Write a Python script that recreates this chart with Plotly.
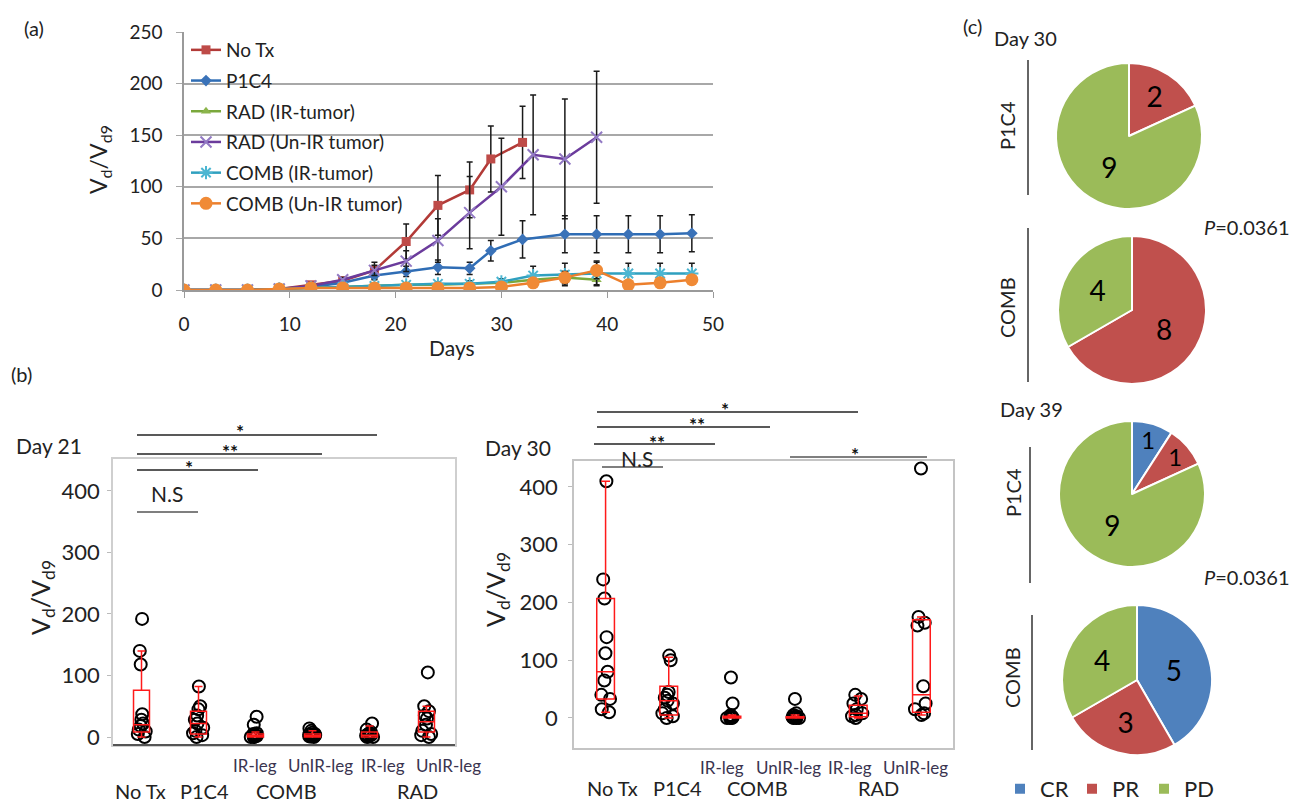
import plotly.graph_objects as go

W, H = 1309, 805
def fx(px): return px / W
def fy(py): return 1 - py / H

FONT = "Lato"

# ---------------- Panel (a) data ----------------
days_notx = [0, 3, 6, 9, 12, 15, 18, 21, 24, 27, 29, 32]
notx = [0, 0, 0, 1, 5, 9, 19, 47, 82, 97, 127, 143]
notx_err = [0, 0, 0, 0.5, 2, 3, 8, 17, 29, 27, 32, 35]

days_p1c4 = [0, 3, 6, 9, 12, 15, 18, 21, 24, 27, 29, 32, 36, 39, 42, 45, 48]
p1c4 = [0, 0, 0, 1, 3, 7, 14, 18, 22, 21, 38, 49, 54, 54, 54, 54, 55]
p1c4_err = [0, 0, 0, 0.5, 1, 2, 4, 5, 7, 6, 10, 18, 18, 18, 18, 18, 18]

days_rad = [0, 3, 6, 9, 12, 15, 18, 21, 24, 27, 30, 33, 36, 39]
rad_ir = [0, 0, 0, 1, 2, 3, 4, 5, 5, 6, 7, 10, 12, 10]
rad_ir_err = [0, 0, 0, 0.5, 1, 1, 1, 2, 2, 2, 3, 4, 6, 5]
rad_unir = [0, 0, 0, 1, 4, 10, 19, 28, 48, 75, 100, 131, 127, 148]
rad_unir_err = [0, 0, 0, 0.5, 1, 2, 5, 10, 21, 35, 47, 58, 58, 64]

days_comb = [0, 3, 6, 9, 12, 15, 18, 21, 24, 27, 30, 33, 36, 39, 42, 45, 48]
comb_ir = [0, 0, 0, 1, 2, 3, 4, 5, 6, 6, 8, 14, 15, 16, 16, 16, 16]
comb_ir_err = [0, 0, 0, 0.5, 1, 1, 2, 2, 2, 3, 3, 9, 11, 12, 10, 10, 10]
comb_unir = [0, 0, 0, 1, 2, 2, 2, 2, 2, 2, 3, 7, 12, 19, 5, 7, 10]
comb_unir_err = [0, 0, 0, 0.5, 1, 1, 1, 1, 1, 1, 2, 4, 6, 8, 3, 3, 4]

# ---------------- Panel (b) data ----------------
groups = ["No Tx", "P1C4", "COMB IR-leg", "COMB UnIR-leg", "RAD IR-leg", "RAD UnIR-leg"]

d21_points = {
    "No Tx": [192, 140, 118, 37, 28, 22, 18, 12, 9, 5, 0],
    "P1C4": [82, 50, 45, 35, 28, 22, 15, 10, 6, 3, 0],
    "COMB IR-leg": [33, 20, 6, 5, 4, 3, 2, 1, 1, 0, 0],
    "COMB UnIR-leg": [14, 10, 7, 5, 4, 3, 2, 2, 1, 1, 0],
    "RAD IR-leg": [22, 12, 8, 6, 4, 3, 2, 1, 0, 0],
    "RAD UnIR-leg": [105, 50, 42, 35, 30, 20, 10, 5, 3, 0],
}
d21_q1 = [8, 5, 0, 0, 0, 8]
d21_med = [20, 22, 2, 2, 3, 25]
d21_q3 = [76, 42, 5, 5, 8, 42]
d21_lo = [0, 0, 0, 0, 0, 0]
d21_hi = [140, 82, 8, 10, 18, 50]

d30_points = {
    "No Tx": [410, 240, 207, 140, 112, 80, 65, 40, 33, 15, 10],
    "P1C4": [108, 100, 45, 40, 35, 30, 25, 15, 8, 3, 0],
    "COMB IR-leg": [70, 25, 5, 3, 2, 1, 1, 0, 0, 0],
    "COMB UnIR-leg": [33, 8, 5, 3, 2, 1, 1, 0, 0, 0],
    "RAD IR-leg": [40, 33, 25, 15, 8, 5, 3, 0],
    "RAD UnIR-leg": [432, 175, 165, 160, 55, 25, 15, 8, 5],
}
d30_q1 = [33, 5, 0, 0, 2, 10]
d30_med = [80, 30, 1, 1, 8, 40]
d30_q3 = [207, 55, 3, 2, 22, 170]
d30_lo = [10, 0, 0, 0, 0, 5]
d30_hi = [410, 105, 5, 5, 38, 175]

# ---------------- Panel (c) data ----------------
pie_labels = ["CR", "PR", "PD"]
pie_colors = ["#4f81bd", "#c0504d", "#9bbb59"]
d30_p1c4 = [0, 2, 9]
d30_comb = [0, 8, 4]
d39_p1c4 = [1, 1, 9]
d39_comb = [5, 3, 4]

fig = go.Figure()

# ---------- (a) line chart ----------
def line_trace(name, x, y, err, color, mcolor, symbol, size, mline=0):
    return go.Scatter(
        x=x, y=y, name=name, mode="lines+markers", legendgroup=name,
        line=dict(color=color, width=2.5),
        marker=dict(symbol=symbol, size=size, color=mcolor,
                    line=dict(color=mcolor, width=mline)),
        error_y=dict(type="data", array=err, color="#1a1a1a", thickness=1.5, width=3),
        xaxis="x", yaxis="y",
    )

fig.add_trace(line_trace("No Tx", days_notx, notx, notx_err, "#b23a37", "#be4b48", "square", 9))
fig.add_trace(line_trace("P1C4", days_p1c4, p1c4, p1c4_err, "#2f6db5", "#3a72b8", "diamond", 9))
fig.add_trace(line_trace("RAD (IR-tumor)", days_rad, rad_ir, rad_ir_err, "#7aa83c", "#8cb54c", "triangle-up", 9))
fig.add_trace(line_trace("RAD (Un-IR tumor)", days_rad, rad_unir, rad_unir_err, "#6b3b9c", "#9279c4", "x-thin-open", 11, 2))
fig.add_trace(line_trace("COMB (IR-tumor)", days_comb, comb_ir, comb_ir_err, "#2fa0bf", "#4bb6d2", "asterisk-open", 11, 2))
fig.add_trace(line_trace("COMB (Un-IR tumor)", days_comb, comb_unir, comb_unir_err, "#ec7f2c", "#f08a36", "circle", 13))

# ---------- (b) box plots ----------
def add_box_panel(points, q1, med, q3, lo, hi, xa, ya):
    xs, ys = [], []
    for g in groups:
        xs += [g] * len(points[g])
        ys += points[g]
    fig.add_trace(go.Box(
        x=xs, y=ys, boxpoints="all", jitter=0.6, pointpos=0, width=0.35,
        fillcolor="rgba(0,0,0,0)", line=dict(color="rgba(0,0,0,0)", width=0),
        marker=dict(symbol="circle-open", size=12, color="black", line=dict(width=2, color="black")),
        showlegend=False, xaxis=xa, yaxis=ya, hoverinfo="y",
    ))
    fig.add_trace(go.Box(
        x=groups, q1=q1, median=med, q3=q3, lowerfence=lo, upperfence=hi,
        boxpoints=False, width=0.28, whiskerwidth=0.5,
        fillcolor="rgba(0,0,0,0)", line=dict(color="#ff1a1a", width=1.5),
        showlegend=False, xaxis=xa, yaxis=ya,
    ))

add_box_panel(d21_points, d21_q1, d21_med, d21_q3, d21_lo, d21_hi, "x2", "y2")
add_box_panel(d30_points, d30_q1, d30_med, d30_q3, d30_lo, d30_hi, "x3", "y3")

# ---------- (c) pies ----------
def add_pie(vals, cx, cy, r):
    fig.add_trace(go.Pie(
        labels=pie_labels, values=vals, sort=False, direction="clockwise", rotation=0,
        marker=dict(colors=pie_colors, line=dict(color="white", width=2)),
        text=[str(v) if v else "" for v in vals], textinfo="text",
        textposition="inside", insidetextorientation="horizontal",
        textfont=dict(size=28, color="black", family=FONT),
        domain=dict(x=[fx(cx - r), fx(cx + r)], y=[fy(cy + r), fy(cy - r)]),
        showlegend=True, legend="legend2", hoverinfo="label+value",
    ))

add_pie(d30_p1c4, 1129, 136, 73)
add_pie(d30_comb, 1132, 310, 74)
add_pie(d39_p1c4, 1132, 494, 73)
add_pie(d39_comb, 1137, 680, 75)

# ---------- axes ----------
axfont = dict(family=FONT, color="#222")
fig.update_layout(
    xaxis=dict(domain=[fx(184), fx(713)], range=[0, 50], tickvals=[0, 10, 20, 30, 40, 50],
               showline=True, linecolor="#9a9a9a", linewidth=1.5, ticks="outside", ticklen=6,
               tickcolor="#9a9a9a", showgrid=False, zeroline=False, anchor="y",
               tickfont=dict(size=19, **axfont), ticklabelstandoff=10),
    yaxis=dict(domain=[fy(290), fy(32)], range=[0, 250], dtick=50, showgrid=True,
               gridcolor="#a8a8a8", gridwidth=1.5, showline=True, linecolor="#9a9a9a", linewidth=1.5,
               ticks="outside", ticklen=6, tickcolor="#a8a8a8", zeroline=False, anchor="x",
               tickfont=dict(size=19, **axfont), ticklabelstandoff=10),
    xaxis2=dict(domain=[fx(113), fx(455)], range=[-0.5, 5.5], type="category",
                categoryorder="array", categoryarray=groups, showticklabels=False, ticks="",
                showline=True, mirror=True, linecolor="#cfcfcf", linewidth=1.5, showgrid=False,
                zeroline=False, anchor="y2"),
    yaxis2=dict(domain=[fy(745), fy(459)], range=[-13, 452], tickvals=[0, 100, 200, 300, 400],
                showline=True, mirror=True, linecolor="#cfcfcf", linewidth=1.5, showgrid=False,
                zeroline=False, ticks="outside", ticklen=4, tickcolor="#bbbbbb", anchor="x2",
                tickfont=dict(size=22, **axfont), ticklabelstandoff=3),
    xaxis3=dict(domain=[fx(574), fx(953)], range=[-0.5, 5.5], type="category",
                categoryorder="array", categoryarray=groups, showticklabels=False, ticks="",
                showline=True, mirror=True, linecolor="#c4c4c4", linewidth=1.5, showgrid=False,
                zeroline=False, anchor="y3"),
    yaxis3=dict(domain=[fy(748), fy(461)], range=[-52, 445], tickvals=[0, 100, 200, 300, 400],
                showline=True, mirror=True, linecolor="#c4c4c4", linewidth=1.5, showgrid=False,
                zeroline=False, ticks="outside", ticklen=4, tickcolor="#bbbbbb", anchor="x3",
                tickfont=dict(size=22, **axfont), ticklabelstandoff=6),
)

fig.update_layout(
    width=W, height=H, margin=dict(l=0, r=0, t=0, b=0, autoexpand=False),
    paper_bgcolor="white", plot_bgcolor="white",
    font=dict(family=FONT, color="#222"),
    boxmode="overlay",
    legend=dict(x=fx(186), y=fy(31), xanchor="left", yanchor="top",
                font=dict(size=19, family=FONT, color="#222"),
                bgcolor="rgba(0,0,0,0)", tracegroupgap=3, itemwidth=30),
    legend2=dict(orientation="h", x=fx(1000), y=fy(789), xanchor="left", yanchor="middle",
                 font=dict(size=22, family=FONT, color="#222"), bgcolor="rgba(0,0,0,0)",
                 entrywidth=27, entrywidthmode="pixels"),
)

# ---------- annotations ----------
ann = []
def txt(s, x, y, size, angle=0, color="#222"):
    ann.append(dict(text=s, x=fx(x), y=fy(y), xref="paper", yref="paper", showarrow=False,
                    font=dict(size=size, family=FONT, color=color), textangle=angle,
                    xanchor="center", yanchor="middle"))

txt("(a)", 34, 28, 20)
txt("(b)", 21, 374, 20)
txt("(c)", 972, 26, 20)
txt("V<sub>d</sub>/V<sub>d9</sub>", 100, 160, 23, -90)
txt("Days", 452, 347, 21)

txt("Day 21", 49, 446, 21)
txt("V<sub>d</sub>/V<sub>d9</sub>", 42, 598, 25, -90)
txt("Day 30", 518, 447, 21)
txt("V<sub>d</sub>/V<sub>d9</sub>", 497, 590, 25, -90)

for s, x in [("No Tx", 140), ("P1C4", 204), ("COMB", 286), ("RAD", 417)]:
    txt(s, x, 791, 20)
for s, x in [("IR-leg", 255), ("UnIR-leg", 320), ("IR-leg", 383), ("UnIR-leg", 448)]:
    txt(s, x, 765, 17, color="#3a3450")
for s, x in [("No Tx", 612), ("P1C4", 677), ("COMB", 757), ("RAD", 878)]:
    txt(s, x, 788, 20)
for s, x in [("IR-leg", 722), ("UnIR-leg", 788), ("IR-leg", 850), ("UnIR-leg", 915)]:
    txt(s, x, 767, 17, color="#3a3450")

# significance lines and marks
shapes = []
def hline(x0, x1, y, color="#222", w=1.5):
    shapes.append(dict(type="line", xref="paper", yref="paper", x0=fx(x0), x1=fx(x1),
                       y0=fy(y), y1=fy(y), line=dict(color=color, width=w)))
def vline(x, y0, y1, color="#333", w=1.5):
    shapes.append(dict(type="line", xref="paper", yref="paper", x0=fx(x), x1=fx(x),
                       y0=fy(y0), y1=fy(y1), line=dict(color=color, width=w)))

hline(137, 377, 435); txt("<b>*</b>", 240, 432, 19, color="#111")
hline(137, 322, 454); txt("<b>**</b>", 230, 451, 19, color="#111")
hline(137, 258, 470); txt("<b>*</b>", 189, 467, 19, color="#111")
hline(137, 198, 512, "#555"); txt("N.S", 167, 493, 21)
hline(113, 455, 745, "#555", 2)

hline(597, 858, 412); txt("<b>*</b>", 725, 409, 19, color="#111")
hline(597, 770, 427); txt("<b>**</b>", 697, 424, 19, color="#111")
hline(594, 715, 444); txt("<b>**</b>", 657, 442, 19, color="#111")
hline(602, 663, 467, "#555"); txt("N.S", 637, 458, 21)
hline(790, 927, 457, "#555"); txt("<b>*</b>", 855, 454, 19, color="#111")

# panel (c) labels
txt("Day 30", 1025, 38, 20)
txt("Day 39", 1031, 409, 20)
txt("P1C4", 1007, 126, 20, -90)
txt("COMB", 1007, 308, 20, -90)
txt("P1C4", 1013, 493, 20, -90)
txt("COMB", 1012, 678, 20, -90)
vline(1028, 60, 195); vline(1028, 228, 382); vline(1030, 447, 583); vline(1032, 615, 750)
txt("<i>P</i>=0.0361", 1247, 227, 20)
txt("<i>P</i>=0.0361", 1247, 577, 20)

fig.update_layout(annotations=ann, shapes=shapes)
fig.write_html("out.html")
